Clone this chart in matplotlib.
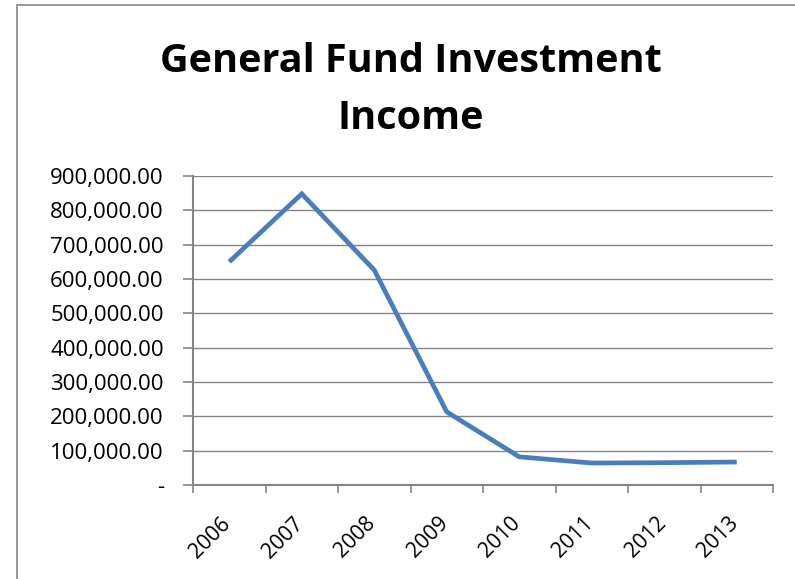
import matplotlib
matplotlib.use('Agg')
import matplotlib.pyplot as plt
from matplotlib.patches import Rectangle
from matplotlib.ticker import FixedLocator, FuncFormatter
from matplotlib.transforms import ScaledTranslation

years = ['2006', '2007', '2008', '2009', '2010', '2011', '2012', '2013']
income = [650000, 848000, 626000, 213000, 82000, 64000, 65000, 67000]

line_color = '#4A7EBB'
grid_color = '#868686'

plt.rcParams['font.family'] = ['Open Sans', 'DejaVu Sans']

fig = plt.figure(figsize=(7.95, 5.79), dpi=100)
ax = fig.add_axes([193 / 795, 1 - 485 / 579, 580 / 795, 309 / 579])

# chart area frame (runs off the right and bottom edges)
fig.patches.append(Rectangle((17 / 795, -0.1), 1.2, 1 - 5 / 579 + 0.1,
                             transform=fig.transFigure, fill=False,
                             edgecolor=grid_color, linewidth=1.2))

x = list(range(len(years)))
ax.plot(x, income, color=line_color, linewidth=3.4, solid_capstyle='butt',
        solid_joinstyle='miter')

ax.set_xlim(-0.5, len(years) - 0.5)
ax.set_ylim(0, 900000)
ax.set_yticks(range(0, 900001, 100000))
ax.yaxis.set_major_formatter(FuncFormatter(
    lambda v, p: '-' if v == 0 else '{:,.2f}'.format(v)))
ax.grid(axis='y', color=grid_color, linewidth=1.0)
ax.set_axisbelow(True)

# category labels: slanted, ending just right of each category centre
ax.set_xticks(x)
ax.set_xticklabels([])
lbl_trans = ax.get_xaxis_transform() + ScaledTranslation(-0.09, -0.28,
                                                         fig.dpi_scale_trans)
for i, yr in zip(x, years):
    ax.text(i, 0, yr, transform=lbl_trans, rotation=45, ha='right', va='top',
            rotation_mode='anchor', fontsize=15.2, clip_on=False)

ax.xaxis.set_minor_locator(FixedLocator([i - 0.5 for i in range(len(years) + 1)]))
ax.tick_params(axis='x', which='major', length=0)
ax.tick_params(axis='x', which='minor', length=6, width=1.2, color=grid_color,
               direction='out')
ax.tick_params(axis='y', length=7, width=1.2, color=grid_color, pad=14,
               labelsize=16)

for side in ['top', 'right']:
    ax.spines[side].set_visible(False)
for side in ['left', 'bottom']:
    ax.spines[side].set_color(grid_color)
    ax.spines[side].set_linewidth(1.5)

fig.text(411 / 795, 1 - 90 / 579, 'General Fund Investment\nIncome',
         ha='center', va='center', fontsize=28.5, fontweight='bold',
         linespacing=1.6)

fig.savefig('out.png', dpi=100)
